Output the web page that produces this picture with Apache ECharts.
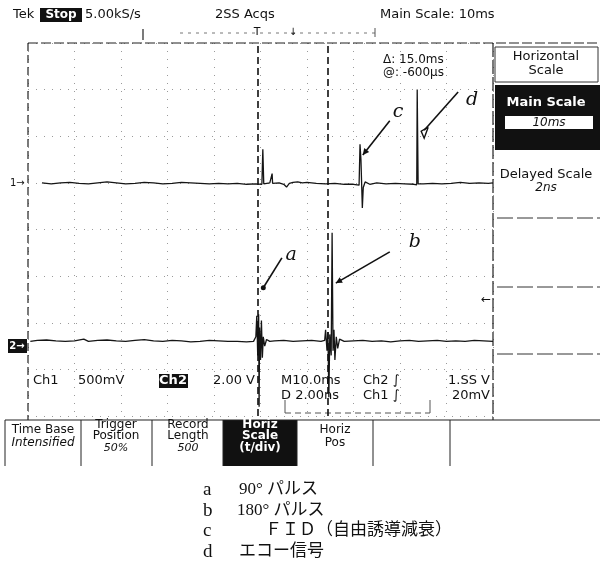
<!DOCTYPE html>
<html><head><meta charset="utf-8">
<script src="https://cdn.jsdelivr.net/npm/echarts@6/dist/echarts.min.js"></script>
<style>html,body{margin:0;padding:0;background:#fff}#c{width:600px;height:576px}</style>
</head><body><div id="c"></div>
<script>
// Time axis: ms from left edge of screen (10 ms/div), level axis: divisions
const ch1Time=[3,5,7,9,11,13,15,17,19,21,23,25,27,29,31,33,35,37,39,41,43,45,47,49,50.3,50.5,50.7,52,52.4,52.5,52.6,54,55,55.6,56.2,57,58,59,60,62,64,66,68,70,71.2,71.4,71.6,71.9,72.1,72.5,73.5,75,77,79,81,83,83.6,83.7,83.9,84.2,85,87,89,91,93,95,97,99,100];
const ch1Level=[1.00,0.98,1.00,1.01,0.99,0.98,1.00,1.02,1.00,0.98,0.99,1.01,1.00,0.98,0.99,1.01,1.00,0.99,0.98,0.99,0.98,0.99,0.97,0.98,0.97,1.72,0.98,1.00,0.99,1.20,0.99,1.00,0.97,0.91,0.99,1.01,1.02,1.00,1.01,0.99,0.98,0.99,0.97,0.97,0.95,1.83,1.50,0.46,0.90,1.02,0.97,1.00,0.98,0.99,0.98,0.97,0.96,3.00,0.98,0.94,0.98,0.99,0.98,0.99,1.01,0.99,1.00,0.99,1.00];
const ch2Time=[0.5,2,4,6,8,10,12,13,15,17,19,21,23,25,27,29,31,33,35,37,39,41,43,45,47,48.5,49.0,49.2,49.4,49.6,49.7,49.8,50.0,50.2,50.4,50.6,50.9,51.3,52,53,55,57,59,61,63,63.8,64.0,64.3,64.5,64.7,64.9,65.2,65.4,65.6,65.8,66.0,66.3,66.6,67,68,70,72,74,76,78,80,82,84,86,88,90,92,94,96,98,100];
const ch2Level=[-2.40,-2.38,-2.37,-2.39,-2.40,-2.39,-2.35,-2.40,-2.38,-2.37,-2.39,-2.40,-2.38,-2.36,-2.39,-2.40,-2.38,-2.39,-2.41,-2.40,-2.38,-2.39,-2.40,-2.40,-2.41,-2.40,-2.30,-1.85,-2.70,-1.82,-3.80,-2.10,-2.80,-1.95,-2.75,-2.30,-2.50,-2.36,-2.40,-2.39,-2.38,-2.40,-2.39,-2.38,-2.40,-2.38,-2.15,-2.60,-2.20,-3.60,-2.25,-2.70,-0.07,-2.60,-2.15,-2.80,-2.30,-2.55,-2.35,-2.40,-2.39,-2.38,-2.40,-2.39,-2.41,-2.39,-2.38,-2.40,-2.39,-2.38,-2.40,-2.39,-2.40,-2.38,-2.39,-2.40];
const cursorTimes=[49.4,64.4];
// handwritten annotations (label position, arrow tail, arrow head) in data coords
const annoNames=['a','b','c','d'];
const annoLabel=[[56.6,-0.55],[83.2,-0.27],[79.6,2.52],[95.5,2.78]];
const annoTail=[[54.6,-0.61],[77.8,-0.48],[77.8,2.33],[92.5,2.95]];
const annoHead=[[50.6,-1.25],[66.2,-1.15],[72.0,1.60],[85.2,2.13]];
// legend lines below the screen
const legendKeys=['a','b','c','d'];
const legendTexts=['90° パルス','180° パルス','ＦＩＤ（自由誘導減衰）','エコー信号'];

const chart=echarts.init(document.getElementById('c'),null,{renderer:'canvas'});
const UI='"DejaVu Sans", sans-serif';
function pair(t,v){return t.map((x,i)=>[x,v[i]]);}
function T(x,y,text,o){o=o||{};return {type:'text',x:x,y:y,silent:true,z:o.z||10,style:{text:text,fill:o.fill||'#111',font:(o.style||'normal')+' '+(o.weight||'normal')+' '+(o.size||13)+'px '+(o.family||UI),textAlign:o.align||'left',textVerticalAlign:o.valign||'middle'}};}
function L(x1,y1,x2,y2,o){o=o||{};return {type:'line',silent:true,z:o.z||5,shape:{x1,y1,x2,y2},style:{stroke:o.stroke||'#222',lineWidth:o.w||1,lineDash:o.dash||null}};}
function R(x,y,w,h,o){o=o||{};return {type:'rect',silent:true,z:o.z||4,shape:{x,y,width:w,height:h},style:{fill:o.fill||'none',stroke:o.stroke||null,lineWidth:o.w||1}};}

const g=[];
// header
g.push(T(13,15,'Tek'));
g.push(R(40,8,42,14,{fill:'#111'}));
g.push(T(61,15,'Stop',{fill:'#fff',weight:'bold',align:'center',size:12,z:11}));
g.push(T(85,15,'5.00kS/s'));
g.push(T(215,15,'2SS Acqs'));
g.push(T(380,15,'Main Scale: 10ms'));
g.push(L(143,29,143,40,{w:1.2}));
g.push(L(180,33,375,33,{stroke:'#777',dash:[3,5]}));
g.push(L(375,28,375,37,{stroke:'#555'}));
g.push(T(257,32,'T',{size:11,align:'center'}));
g.push(T(293,32,'↓',{size:10,align:'center'}));
// screen frame
g.push(L(28,43,600,43,{w:1.2,dash:[10,3]}));
g.push(L(28,43,28,420,{w:1.2,dash:[8,4]}));
g.push(L(493,43,493,420,{w:1.2,dash:[14,3]}));
// channel markers
g.push(T(10,183,'1→',{size:10}));
g.push(R(8,339,19,14,{fill:'#111'}));
g.push(T(17,346,'2→',{size:10,fill:'#fff',align:'center',weight:'bold',z:11}));
g.push(T(486,300,'←',{size:12,align:'center'}));
// cursor readout
g.push(T(383,60,'Δ: 15.0ms',{size:12}));
g.push(T(383,73,'@: -600µs',{size:12}));
// bottom readouts
g.push(T(33,381,'Ch1'));
g.push(T(78,381,'500mV'));
g.push(R(159,374,29,14,{fill:'#111'}));
g.push(T(173,381,'Ch2',{fill:'#fff',weight:'bold',align:'center',z:11}));
g.push(T(255,381,'2.00 V',{align:'right'}));
g.push(T(281,381,'M10.0ms'));
g.push(T(281,396,'D 2.00ns'));
g.push(T(363,381,'Ch2 ∫'));
g.push(T(363,396,'Ch1 ∫'));
g.push(T(490,381,'1.SS V',{align:'right'}));
g.push(T(490,396,'20mV',{align:'right'}));
g.push(L(285,400,285,413,{stroke:'#555'}));
g.push(L(285,413,430,413,{stroke:'#555',dash:[6,4]}));
g.push(L(430,400,430,413,{stroke:'#555'}));
// right menu
g.push(R(495,47,103,35,{stroke:'#333'}));
g.push(T(546,57,'Horizontal',{align:'center'}));
g.push(T(546,71,'Scale',{align:'center'}));
g.push(R(495,85,105,65,{fill:'#111'}));
g.push(T(546,103,'Main Scale',{fill:'#fff',weight:'bold',align:'center',z:11}));
g.push(R(505,116,88,13,{fill:'#fff',z:6}));
g.push(T(549,123,'10ms',{style:'italic',align:'center',size:12,z:11}));
g.push(T(546,175,'Delayed Scale',{align:'center'}));
g.push(T(546,188,'2ns',{style:'italic',align:'center',size:12}));
[218,287,354].forEach(y=>g.push(L(497,y,600,y,{stroke:'#333',dash:[16,4]})));
// bottom menu
g.push(L(5,420,600,420,{w:1.2}));
[5,81,152,223,297,373,450].forEach(x=>g.push(L(x,420,x,466,{w:1})));
g.push(R(223,420,74,46,{fill:'#111'}));
g.push(T(43,430,'Time Base',{size:12,align:'center'}));
g.push(T(43,443,'Intensified',{size:12,align:'center',style:'italic'}));
g.push(T(116,425,'Trigger',{size:12,align:'center'}));
g.push(T(116,436,'Position',{size:12,align:'center'}));
g.push(T(116,448,'50%',{size:11,align:'center',style:'italic'}));
g.push(T(188,425,'Record',{size:12,align:'center'}));
g.push(T(188,436,'Length',{size:12,align:'center'}));
g.push(T(188,448,'500',{size:11,align:'center',style:'italic'}));
g.push(T(260,425,'Horiz',{size:12,align:'center',fill:'#fff',weight:'bold',z:11}));
g.push(T(260,436,'Scale',{size:12,align:'center',fill:'#fff',weight:'bold',z:11}));
g.push(T(260,448,'(t/div)',{size:12,align:'center',fill:'#fff',weight:'bold',z:11}));
g.push(T(335,430,'Horiz',{size:12,align:'center'}));
g.push(T(335,443,'Pos',{size:12,align:'center'}));
// legend
const ly=[490,511,531,552];
legendKeys.forEach((k,i)=>{
  g.push(T(203,ly[i],k,{size:19,family:'"Liberation Serif", serif'}));
  const lx = i===2 ? 265 : (i===1 ? 237 : 239);
  g.push(T(lx,ly[i],legendTexts[i],{size:17,family:'"Liberation Serif","Noto Sans CJK JP", serif'}));
});

chart.setOption({
  animation:false,
  backgroundColor:'#fff',
  grid:{left:28,top:43,width:465,height:373,show:false},
  xAxis:{type:'value',min:0,max:100,interval:10,axisLine:{show:false},axisTick:{show:false},axisLabel:{show:false},
    splitLine:{show:true,lineStyle:{color:'#9a9a9a',type:[1,7],width:1}}},
  yAxis:{type:'value',min:-4,max:4,interval:1,axisLine:{show:false},axisTick:{show:false},axisLabel:{show:false},
    splitLine:{show:true,lineStyle:{color:'#9a9a9a',type:[1,7],width:1}}},
  series:[
    {type:'line',name:'Ch1',data:pair(ch1Time,ch1Level),showSymbol:false,lineStyle:{color:'#151515',width:1.3},z:3},
    {type:'line',name:'Ch2',data:pair(ch2Time,ch2Level),showSymbol:false,lineStyle:{color:'#151515',width:1.3},z:3,
      markLine:{silent:true,symbol:'none',label:{show:false},lineStyle:{color:'#111',type:[7,4],width:1.6},
        data:cursorTimes.map(t=>({xAxis:t}))}}
  ],
  graphic:{elements:g}
});

// handwritten annotations positioned through the axes
const hand='"DejaVu Serif", serif';
const g2=[];
annoNames.forEach((n,i)=>{
  const p=chart.convertToPixel({gridIndex:0},annoLabel[i]);
  const t=chart.convertToPixel({gridIndex:0},annoTail[i]);
  const h=chart.convertToPixel({gridIndex:0},annoHead[i]);
  g2.push(T(p[0],p[1],n,{size:19,family:hand,style:'italic',align:'center'}));
  g2.push(L(t[0],t[1],h[0],h[1],{w:1.6,stroke:'#111'}));
  const ang=Math.atan2(h[1]-t[1],h[0]-t[0]);
  if(n==='a'){
    g2.push({type:'circle',silent:true,z:6,shape:{cx:h[0],cy:h[1],r:2.5},style:{fill:'#111'}});
  } else if(n==='d'){
    g2.push({type:'polyline',silent:true,z:6,shape:{points:[[h[0]+4,h[1]-3],[h[0]-3,h[1]+1],[h[0],h[1]+8],[h[0]+4,h[1]-3]]},style:{stroke:'#111',lineWidth:1.4,fill:'none'}});
  } else {
    const a1=ang+Math.PI*0.85, a2=ang-Math.PI*0.85, s=7;
    g2.push({type:'polygon',silent:true,z:6,shape:{points:[[h[0],h[1]],[h[0]+s*Math.cos(a1),h[1]+s*Math.sin(a1)],[h[0]+s*Math.cos(a2),h[1]+s*Math.sin(a2)]]},style:{fill:'#111'}});
  }
});
chart.setOption({graphic:{elements:g.concat(g2)}});
</script></body></html>
